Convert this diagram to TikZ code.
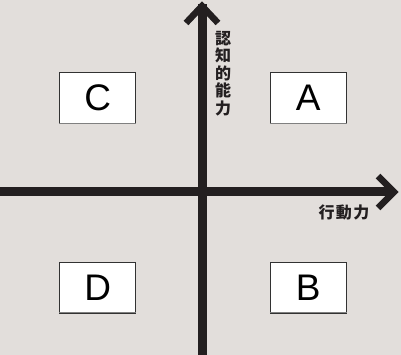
\documentclass[tikz,border=0pt]{standalone}
\usepackage{fontspec}
\setmainfont{Liberation Sans}
\newfontfamily\jpfont{Noto Sans CJK JP}
\definecolor{bgc}{RGB}{226,222,219}
\definecolor{axc}{RGB}{35,31,32}
\definecolor{boxc}{RGB}{50,50,50}
\begin{document}
\begin{tikzpicture}[x=1pt,y=-1pt,
  quad/.style={draw=boxc,line width=1pt,fill=white,minimum width=76pt,minimum height=51pt,inner sep=0pt,
    font=\fontsize{37}{40}\selectfont},
  axis/.style={draw=axc,line width=9pt},
  tipline/.style={draw=axc,line width=6.5pt,miter limit=10,line join=miter},
  lbl/.style={font=\jpfont\bfseries\fontsize{16}{17.5}\selectfont,text=axc,inner sep=0pt}]
\fill[bgc] (0,0) rectangle (401,355);
\useasboundingbox (0,0) rectangle (401,355);
% axes
\coordinate (vbot) at (202,355);
\coordinate (vtop) at (202,6);
\coordinate (hl) at (0,192);
\coordinate (hr) at (394,192);
\draw[axis] (vbot) -- ([yshift=2pt]vtop);
\draw[axis] (hl) -- ([xshift=-2pt]hr);
\draw[tipline] ([shift={(-16,17)}]vtop) -- (vtop) -- ([shift={(16,17)}]vtop);
\draw[tipline] ([shift={(-16,-16)}]hr) -- (hr) -- ([shift={(-16,16)}]hr);
% boxes
\node[quad] (C) at (97.75,98.25) {C};
\node[quad] (A) at (308.25,98.25) {A};
\node[quad] (D) at (97.75,287.5) {D};
\node[quad] (B) at (308.25,287.5) {B};
\foreach \n in {A,B,C,D}{
  \draw[gray,line width=1pt] ([yshift=1pt]\n.south west) -- ([yshift=1pt]\n.south east);
}
% labels
\node[lbl,align=center] (vl) at (223,73.5) {認\\知\\的\\能\\力};
\node[lbl] (hlab) at (344,212) {\addfontfeature{LetterSpace=8}行動力};
\end{tikzpicture}
\end{document}
